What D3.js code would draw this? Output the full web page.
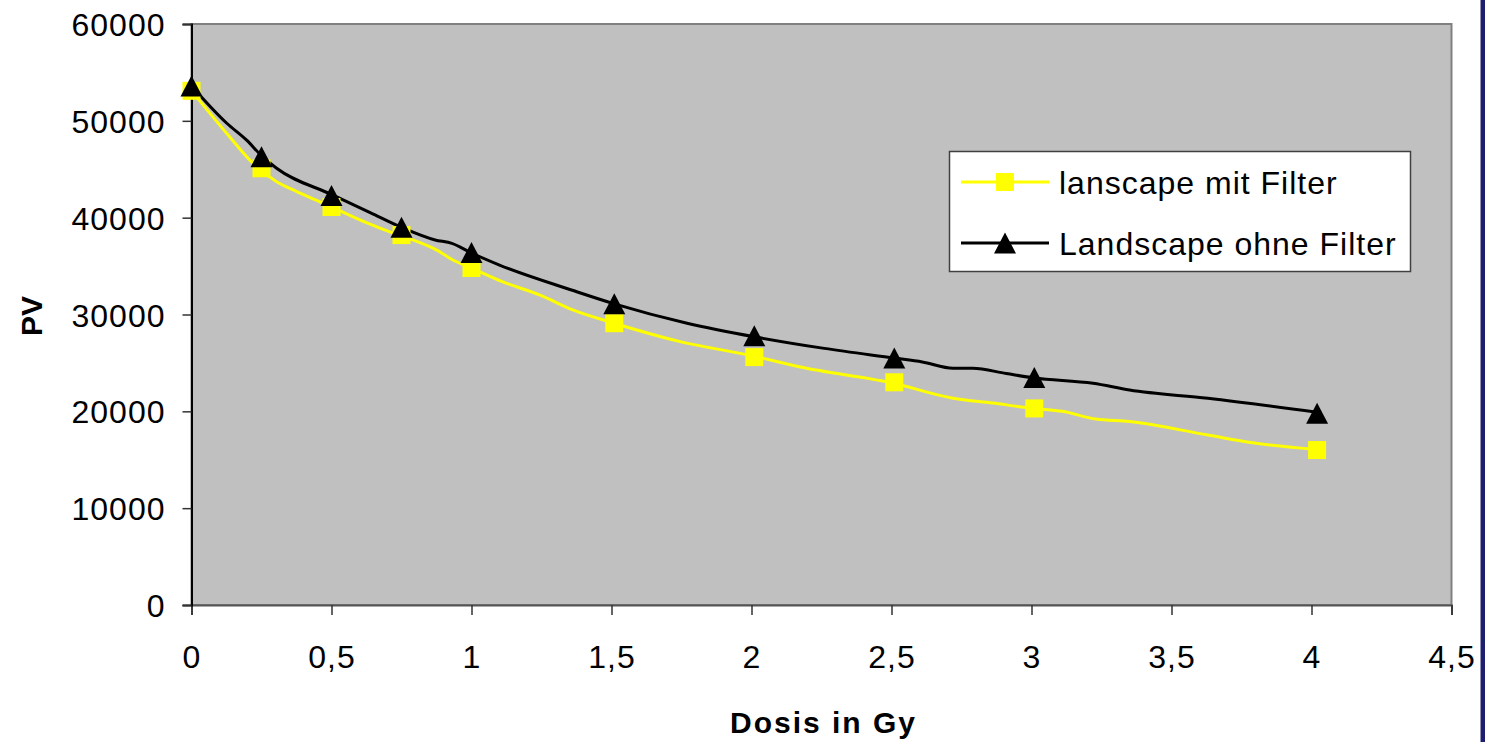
<!DOCTYPE html>
<html>
<head>
<meta charset="utf-8">
<script src="https://cdn.jsdelivr.net/npm/d3@7"></script>
<style>
  body { margin: 0; background: #fff; }
  svg { display: block; }
  text { font-family: "Liberation Sans", Arial, sans-serif; fill: #000; }
</style>
</head>
<body>
<script>
// marker points
var markerX = [0, 0.25, 0.5, 0.75, 1, 1.51, 2.01, 2.51, 3.01, 4.02];
var mitFilter = [53100, 45100, 41100, 38200, 34800, 29100, 25600, 23000, 20300, 16000];
var ohneFilter = [53600, 46300, 42300, 39000, 36400, 31100, 27800, 25500, 23500, 19800];

// line traces (denser than the markers)
var mitLineX = [0, 0.126, 0.22, 0.304, 0.376, 0.47, 0.631, 0.72, 0.79, 0.876, 0.935, 1.0, 1.11, 1.245, 1.364, 1.51, 1.745, 2.01, 2.17, 2.5, 2.72, 2.86, 3.01, 3.11, 3.23, 3.35, 3.63, 3.79, 4.02];
var mitLineY = [53100, 48700, 45600, 43700, 42700, 41500, 39400, 38400, 37700, 36650, 35600, 34800, 33400, 32000, 30450, 29100, 27200, 25700, 24600, 22950, 21350, 20850, 20300, 20000, 19200, 18950, 17550, 16750, 16050];
var ohneLineX = [0, 0.126, 0.197, 0.25, 0.304, 0.5, 0.64, 0.75, 0.87, 0.93, 1.0, 1.1, 1.36, 1.51, 1.77, 2.01, 2.26, 2.51, 2.61, 2.72, 2.79, 2.91, 3.01, 3.22, 3.35, 3.63, 4.02];
var ohneLineY = [53600, 49750, 48000, 46400, 45100, 42400, 40500, 39000, 37700, 37350, 36350, 35100, 32500, 31100, 29100, 27700, 26500, 25500, 25100, 24450, 24450, 23900, 23450, 22900, 22200, 21350, 19900];

var xTicks = [0, 0.5, 1, 1.5, 2, 2.5, 3, 3.5, 4, 4.5];
var yTicks = [0, 10000, 20000, 30000, 40000, 50000, 60000];
var seriesNames = ["lanscape mit Filter", "Landscape ohne Filter"];

var W = 1485, H = 742;
var pLeft = 191.5, pRight = 1451.5, pTop = 24, pBottom = 605;

var svg = d3.select("body").append("svg").attr("width", W).attr("height", H);

var x = d3.scaleLinear().domain([0, 4.5]).range([pLeft, pRight]);
var y = d3.scaleLinear().domain([0, 60000]).range([pBottom, pTop]);

// plot area
svg.append("rect")
    .attr("x", pLeft).attr("y", pTop)
    .attr("width", pRight - pLeft).attr("height", pBottom - pTop)
    .attr("fill", "#c0c0c0")
    .attr("stroke", "#808080")
    .attr("stroke-width", 2);

var deLocale = d3.formatLocale({decimal: ",", thousands: "", grouping: [3], currency: ["", ""]});

var xAxis = svg.append("g")
    .attr("transform", "translate(0," + pBottom + ")")
    .call(d3.axisBottom(x).tickValues(xTicks).tickSize(10).tickPadding(30).tickFormat(deLocale.format("")));
xAxis.select(".domain").attr("stroke", "#555").attr("stroke-width", 2);
xAxis.selectAll(".tick line").attr("stroke", "#333").attr("stroke-width", 1.5);

var yAxis = svg.append("g")
    .attr("transform", "translate(" + pLeft + ",0)")
    .call(d3.axisLeft(y).tickValues(yTicks).tickSize(9).tickPadding(17).tickFormat(d3.format("d")));
yAxis.select(".domain").attr("stroke", "#000").attr("stroke-width", 2);
yAxis.selectAll(".tick line").attr("stroke", "#333").attr("stroke-width", 1.5);

svg.selectAll(".tick text")
    .attr("font-family", "Liberation Sans, Arial, sans-serif")
    .attr("font-size", 32)
    .attr("letter-spacing", "1px")
    .attr("fill", "#000");
yAxis.selectAll(".tick text").attr("dy", "0.36em");

// lines
var line = d3.line()
    .x(function(d) { return x(d[0]); })
    .y(function(d) { return y(d[1]); })
    .curve(d3.curveMonotoneX);

var mitLine = mitLineX.map(function(v, i) { return [v, mitLineY[i]]; });
var ohneLine = ohneLineX.map(function(v, i) { return [v, ohneLineY[i]]; });

svg.append("path").datum(mitLine)
    .attr("d", line).attr("fill", "none")
    .attr("stroke", "#ffff00").attr("stroke-width", 3);

svg.append("path").datum(ohneLine)
    .attr("d", line).attr("fill", "none")
    .attr("stroke", "#000").attr("stroke-width", 3);

var square = "M-9,-9H9V9H-9Z";
var triangle = "M0,-10.5L11,10.5H-11Z";

svg.selectAll(".sq").data(markerX).enter().append("path")
    .attr("class", "sq")
    .attr("d", square)
    .attr("transform", function(d, i) { return "translate(" + x(d) + "," + y(mitFilter[i]) + ")"; })
    .attr("fill", "#ffff00");

svg.selectAll(".tri").data(markerX).enter().append("path")
    .attr("class", "tri")
    .attr("d", triangle)
    .attr("transform", function(d, i) { return "translate(" + x(d) + "," + y(ohneFilter[i]) + ")"; })
    .attr("fill", "#000");

// legend
var lg = svg.append("g");
lg.append("rect")
    .attr("x", 949.5).attr("y", 151.5).attr("width", 461).attr("height", 120)
    .attr("fill", "#fff").attr("stroke", "#404040").attr("stroke-width", 1.5);

var rows = [182, 243];
lg.append("line").attr("x1", 961).attr("x2", 1049).attr("y1", rows[0]).attr("y2", rows[0])
    .attr("stroke", "#ffff00").attr("stroke-width", 3);
lg.append("path").attr("d", square).attr("transform", "translate(1005," + rows[0] + ")").attr("fill", "#ffff00");
lg.append("line").attr("x1", 961).attr("x2", 1049).attr("y1", rows[1]).attr("y2", rows[1])
    .attr("stroke", "#000").attr("stroke-width", 3);
lg.append("path").attr("d", triangle).attr("transform", "translate(1005," + rows[1] + ")").attr("fill", "#000");

lg.selectAll(".lt").data(seriesNames).enter().append("text")
    .attr("x", 1059)
    .attr("y", function(d, i) { return rows[i]; })
    .attr("dy", "0.36em")
    .attr("font-size", 32)
    .attr("letter-spacing", "1px")
    .text(function(d) { return d; });

// axis titles
svg.append("text")
    .attr("x", (pLeft + pRight) / 2 + 2)
    .attr("y", 733)
    .attr("text-anchor", "middle")
    .attr("font-size", 30)
    .attr("font-weight", "bold")
    .attr("letter-spacing", "2px")
    .text("Dosis in Gy");

svg.append("text")
    .attr("transform", "translate(41.5,316) rotate(-90)")
    .attr("text-anchor", "middle")
    .attr("font-size", 30)
    .attr("font-weight", "bold")
    .text("PV");

// right edge strip
svg.append("rect").attr("x", 1480).attr("y", 0).attr("width", 5).attr("height", H).attr("fill", "#1e1e6e");
svg.append("line").attr("x1", 1480.5).attr("x2", 1480.5).attr("y1", 0).attr("y2", H)
    .attr("stroke", "#9090b8").attr("stroke-width", 1);
</script>
</body>
</html>
